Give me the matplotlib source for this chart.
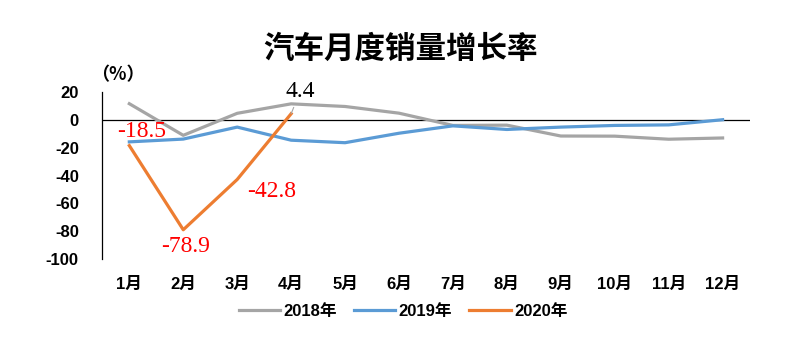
import matplotlib
matplotlib.use("Agg")
import matplotlib.pyplot as plt

plt.rcParams['font.family'] = ['Liberation Sans', 'Noto Sans CJK SC', 'DejaVu Sans']

months = ['1月', '2月', '3月', '4月', '5月', '6月', '7月', '8月', '9月', '10月', '11月', '12月']
sales_2018 = [11.6, -11.1, 4.7, 11.5, 9.6, 4.8, -4.0, -3.8, -11.6, -11.7, -13.9, -13.0]
sales_2019 = [-15.8, -13.8, -5.2, -14.6, -16.4, -9.6, -4.3, -6.9, -5.2, -4.0, -3.6, 0.1]
sales_2020 = [-18.5, -78.9, -42.8, 4.4]
yticks = [20, 0, -20, -40, -60, -80, -100]

# 标注位置（偏移，单位 pt）
label_offsets = [(9, 10), (2, -12), (25, -9), (6.5, 16)]
label_colors = ['red', 'red', 'red', 'black']

fig = plt.figure(figsize=(8.06, 3.37), dpi=100)
ax = fig.add_axes([0.127, 0.231, 0.803, 0.496])

x = list(range(len(months)))
ax.plot(x, sales_2018, color='#A5A5A5', lw=2.3, label='2018年', solid_joinstyle='round')
ax.plot(x, sales_2019, color='#5B9BD5', lw=2.3, label='2019年', solid_joinstyle='round')
ax.plot(x[:len(sales_2020)], sales_2020, color='#ED7D31', lw=2.3, label='2020年',
        solid_joinstyle='round')

ax.axhline(0, color='black', lw=0.9, zorder=0)

for i, v in enumerate(sales_2020):
    arrow = None
    if i == 3:
        arrow = dict(arrowstyle='-', color='#A5A5A5', lw=0.8, shrinkA=2, shrinkB=0)
    ax.annotate(f'{v}', xy=(i, v), xytext=label_offsets[i], textcoords='offset points',
                ha='center', va='center', color=label_colors[i], fontsize=17,
                family=['Liberation Serif', 'DejaVu Serif'], arrowprops=arrow)

ax.set_xlim(-0.5, 11.5)
ax.set_ylim(-100, 20)
ax.set_yticks(yticks)
ax.set_yticklabels([str(t) for t in yticks], fontsize=12, fontweight='bold')
ax.set_xticks(x)
ax.set_xticklabels(months, fontsize=12, fontweight='bold')
ax.tick_params(axis='both', length=0)
ax.tick_params(axis='x', pad=13)
ax.tick_params(axis='y', pad=17)

for side in ['top', 'right', 'bottom']:
    ax.spines[side].set_visible(False)
ax.spines['left'].set_color('black')
ax.spines['left'].set_linewidth(0.9)

fig.text(0.497, 0.855, '汽车月度销量增长率', ha='center', va='center',
         fontsize=22, fontweight='bold', family=['Noto Sans CJK SC'])
fig.text(0.146, 0.777, '（%）', ha='center', va='center', fontsize=13, fontweight='bold',
         family=['Noto Sans CJK JP'])

fig.legend(loc='center', bbox_to_anchor=(0.5, 0.075), ncol=3, frameon=False,
           prop={'size': 12, 'weight': 'bold'}, handlelength=2.5, columnspacing=1.0,
           handletextpad=0.2)

fig.savefig('out.png', dpi=100)
